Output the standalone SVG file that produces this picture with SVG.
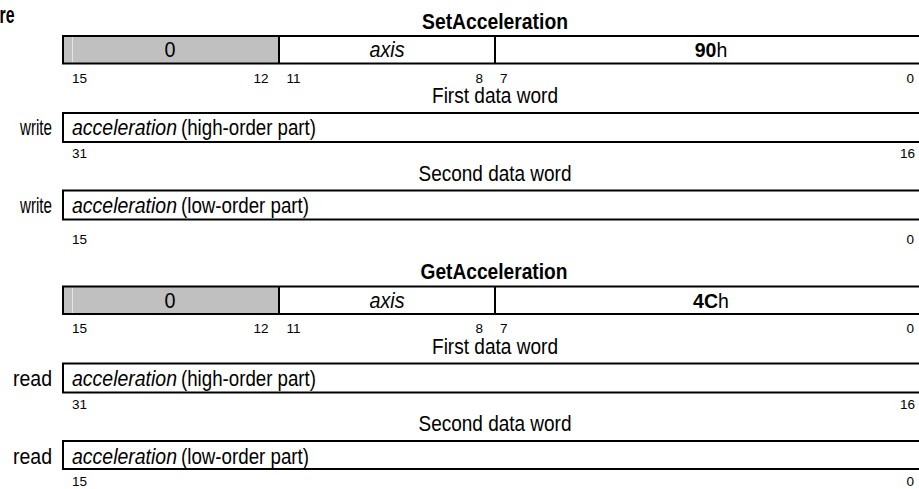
<svg xmlns="http://www.w3.org/2000/svg" width="919" height="489" viewBox="0 0 919 489">
<style>
.t{font-family:"Liberation Sans",Arial,sans-serif;fill:#000}
.m{font-size:21.5px}
.s{font-size:13.5px}
.b{font-weight:bold}
.i{font-style:italic}
.box{fill:none;stroke:#000;stroke-width:2}
.gray{fill:#c0c0c0}
.hl{stroke:#e4e4e4;stroke-width:1}
.sep{stroke:#000;stroke-width:2}
</style>
<rect x="0" y="0" width="919" height="489" fill="#fff"/>
<g id="title-cut"><text class="t b" x="14.5" y="23" font-size="24" text-anchor="end" textLength="15" lengthAdjust="spacingAndGlyphs">re</text></g>

<!-- SetAcceleration -->
<g id="set-header"><text class="t m b" x="495" y="28.5" text-anchor="middle" textLength="146" lengthAdjust="spacingAndGlyphs">SetAcceleration</text></g>
<g id="set-instr">
<rect class="gray" x="63" y="36" width="216" height="27.5"/>
<line class="hl" x1="72.5" y1="37" x2="72.5" y2="62.5"/>
<rect class="box" x="63" y="36" width="870" height="27.5"/>
<line class="sep" x1="279" y1="36" x2="279" y2="63.5"/>
<line class="sep" x1="495" y1="36" x2="495" y2="63.5"/>
<text class="t m" x="170" y="57" text-anchor="middle" textLength="11" lengthAdjust="spacingAndGlyphs">0</text>
<text class="t m i" x="387" y="57" text-anchor="middle" textLength="35" lengthAdjust="spacingAndGlyphs">axis</text>
<text class="t" x="711" y="57" font-size="19.5" text-anchor="middle"><tspan class="b">90</tspan>h</text>
</g>
<g id="set-bits1">
<text class="t s" x="72" y="82.5">15</text>
<text class="t s" x="268.5" y="82.5" text-anchor="end">12</text>
<text class="t s" x="286.5" y="82.5">11</text>
<text class="t s" x="483" y="82.5" text-anchor="end">8</text>
<text class="t s" x="500" y="82.5">7</text>
<text class="t s" x="914" y="82.5" text-anchor="end">0</text>
</g>
<g id="set-label1"><text class="t m" x="495" y="103" text-anchor="middle" textLength="126" lengthAdjust="spacingAndGlyphs">First data word</text></g>
<g id="set-word1">
<text class="t m" x="52" y="135" text-anchor="end" textLength="32" lengthAdjust="spacingAndGlyphs">write</text>
<rect class="box" x="63" y="113" width="870" height="29"/>
<text class="t m i" x="72" y="135" textLength="105" lengthAdjust="spacingAndGlyphs">acceleration</text>
<text class="t m" x="181" y="135" textLength="135" lengthAdjust="spacingAndGlyphs">(high-order part)</text>
</g>
<g id="set-bits2">
<text class="t s" x="72" y="158">31</text>
<text class="t s" x="915" y="158" text-anchor="end">16</text>
</g>
<g id="set-label2"><text class="t m" x="495" y="180.5" text-anchor="middle" textLength="153" lengthAdjust="spacingAndGlyphs">Second data word</text></g>
<g id="set-word2">
<text class="t m" x="52" y="213" text-anchor="end" textLength="32" lengthAdjust="spacingAndGlyphs">write</text>
<rect class="box" x="63" y="190.5" width="870" height="29"/>
<text class="t m i" x="72" y="213" textLength="105" lengthAdjust="spacingAndGlyphs">acceleration</text>
<text class="t m" x="181" y="213" textLength="128" lengthAdjust="spacingAndGlyphs">(low-order part)</text>
</g>
<g id="set-bits3">
<text class="t s" x="72" y="244">15</text>
<text class="t s" x="914" y="244" text-anchor="end">0</text>
</g>

<!-- GetAcceleration -->
<g id="get-header"><text class="t m b" x="494" y="279" text-anchor="middle" textLength="147" lengthAdjust="spacingAndGlyphs">GetAcceleration</text></g>
<g id="get-instr">
<rect class="gray" x="63" y="286.5" width="216" height="27.5"/>
<line class="hl" x1="72.5" y1="287.5" x2="72.5" y2="313"/>
<rect class="box" x="63" y="286.5" width="870" height="27.5"/>
<line class="sep" x1="279" y1="286.5" x2="279" y2="314"/>
<line class="sep" x1="495" y1="286.5" x2="495" y2="314"/>
<text class="t m" x="170" y="307.5" text-anchor="middle" textLength="11" lengthAdjust="spacingAndGlyphs">0</text>
<text class="t m i" x="387" y="307.5" text-anchor="middle" textLength="35" lengthAdjust="spacingAndGlyphs">axis</text>
<text class="t" x="711" y="307.5" font-size="19.5" text-anchor="middle"><tspan class="b">4C</tspan>h</text>
</g>
<g id="get-bits1">
<text class="t s" x="72" y="333">15</text>
<text class="t s" x="268.5" y="333" text-anchor="end">12</text>
<text class="t s" x="286.5" y="333">11</text>
<text class="t s" x="483" y="333" text-anchor="end">8</text>
<text class="t s" x="500" y="333">7</text>
<text class="t s" x="914" y="333" text-anchor="end">0</text>
</g>
<g id="get-label1"><text class="t m" x="495" y="353.5" text-anchor="middle" textLength="126" lengthAdjust="spacingAndGlyphs">First data word</text></g>
<g id="get-word1">
<text class="t m" x="52" y="385.5" text-anchor="end" textLength="39" lengthAdjust="spacingAndGlyphs">read</text>
<rect class="box" x="63" y="363.5" width="870" height="29"/>
<text class="t m i" x="72" y="385.5" textLength="105" lengthAdjust="spacingAndGlyphs">acceleration</text>
<text class="t m" x="181" y="385.5" textLength="135" lengthAdjust="spacingAndGlyphs">(high-order part)</text>
</g>
<g id="get-bits2">
<text class="t s" x="72" y="408.5">31</text>
<text class="t s" x="915" y="408.5" text-anchor="end">16</text>
</g>
<g id="get-label2"><text class="t m" x="495" y="430.5" text-anchor="middle" textLength="153" lengthAdjust="spacingAndGlyphs">Second data word</text></g>
<g id="get-word2">
<text class="t m" x="52" y="463.5" text-anchor="end" textLength="39" lengthAdjust="spacingAndGlyphs">read</text>
<rect class="box" x="63" y="441" width="870" height="28"/>
<text class="t m i" x="72" y="463.5" textLength="105" lengthAdjust="spacingAndGlyphs">acceleration</text>
<text class="t m" x="181" y="463.5" textLength="128" lengthAdjust="spacingAndGlyphs">(low-order part)</text>
</g>
<g id="get-bits3">
<text class="t s" x="72" y="486">15</text>
<text class="t s" x="914" y="486" text-anchor="end">0</text>
</g>
<g id="connectors"/>
</svg>
